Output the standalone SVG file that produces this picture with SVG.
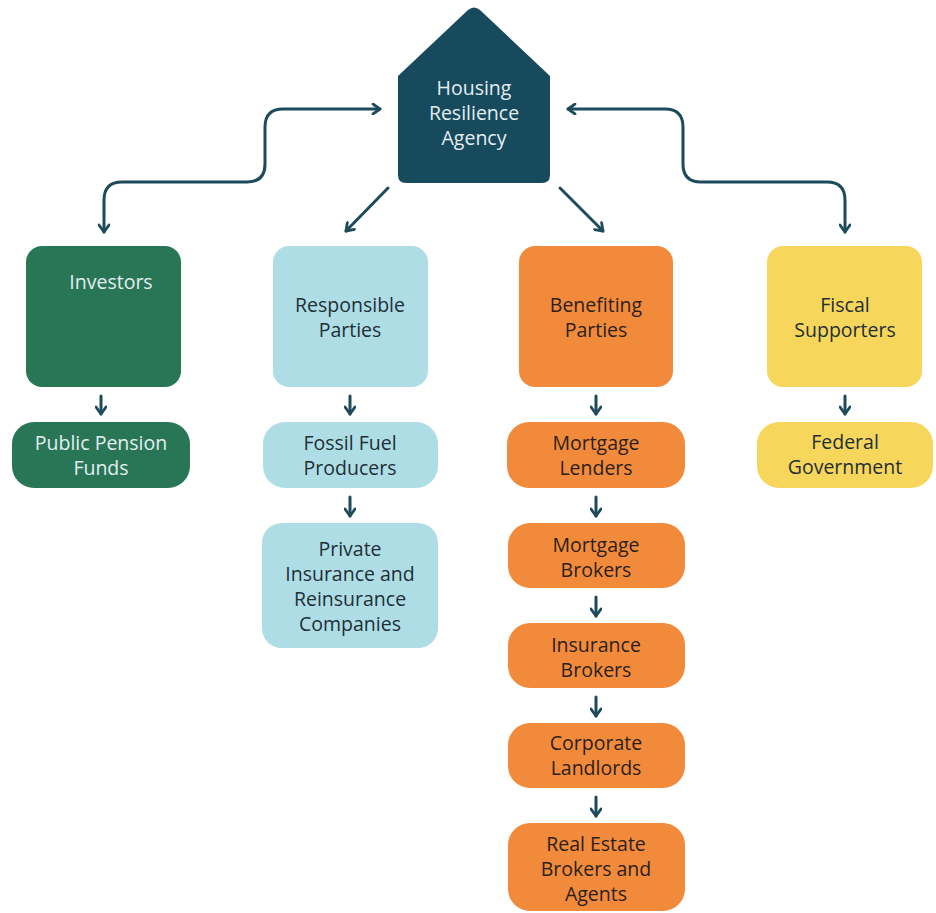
<svg xmlns="http://www.w3.org/2000/svg" width="936" height="913" viewBox="0 0 936 913">
<defs>
<marker id="ah" viewBox="0 0 12 12" refX="10" refY="6" markerWidth="12" markerHeight="12" markerUnits="userSpaceOnUse" orient="auto-start-reverse">
<path d="M3,1 L10,6 L3,11" fill="none" stroke="#1d4b5c" stroke-width="2.8" stroke-linecap="round" stroke-linejoin="round"/>
</marker>
</defs>
<style>
.t{font-family:"Open Sans","Noto Sans",sans-serif;font-size:19.5px;text-anchor:middle}
.lt{fill:#e4eef0}
.dk{fill:#1f2f36}
.ob{fill:#2a1f1a}
.c{fill:none;stroke:#1d4b5c;stroke-width:3;stroke-linecap:round;stroke-linejoin:round}
.g{fill:#287656}
.b{fill:#aedde6}
.o{fill:#f28a3c}
.y{fill:#f7d65c}
</style>
<rect width="936" height="913" fill="#ffffff"/>
<g id="connectors">
<path class="c" d="M380,109 H283 Q265,109 265,127 V164 Q265,182 247,182 H122 Q104,182 104,200 V232" marker-start="url(#ah)" marker-end="url(#ah)"/>
<path class="c" d="M568,109 H665 Q683,109 683,127 V164 Q683,182 701,182 H827 Q845,182 845,200 V232" marker-start="url(#ah)" marker-end="url(#ah)"/>
<path class="c" d="M388,188 L346,231" marker-end="url(#ah)"/>
<path class="c" d="M560,188 L603,231" marker-end="url(#ah)"/>
<path class="c" d="M101,396 V414" marker-end="url(#ah)"/>
<path class="c" d="M350,396 V414" marker-end="url(#ah)"/>
<path class="c" d="M350,497 V516" marker-end="url(#ah)"/>
<path class="c" d="M596,396 V414" marker-end="url(#ah)"/>
<path class="c" d="M596,497 V516" marker-end="url(#ah)"/>
<path class="c" d="M596,597 V616" marker-end="url(#ah)"/>
<path class="c" d="M596,697 V716" marker-end="url(#ah)"/>
<path class="c" d="M596,797 V816" marker-end="url(#ah)"/>
<path class="c" d="M845,396 V414" marker-end="url(#ah)"/>
</g>
<g id="agency">
<path d="M406,183 Q398,183 398,175 V76 L468,10 Q474,5 480,10 L550,76 V175 Q550,183 542,183 Z" fill="#174a5d"/>
<text class="t lt" x="474" y="95">Housing</text>
<text class="t lt" x="474" y="120">Resilience</text>
<text class="t lt" x="474" y="145">Agency</text>
</g>
<g id="investors">
<rect class="g" x="26" y="246" width="155" height="141" rx="16"/>
<text class="t lt" x="111" y="289">Investors</text>
</g>
<g id="pension">
<rect class="g" x="12" y="422" width="178" height="66" rx="22"/>
<text class="t lt" x="101" y="450">Public Pension</text>
<text class="t lt" x="101" y="475">Funds</text>
</g>
<g id="responsible">
<rect class="b" x="273" y="246" width="155" height="141" rx="16"/>
<text class="t dk" x="350" y="312">Responsible</text>
<text class="t dk" x="350" y="337">Parties</text>
</g>
<g id="fossil">
<rect class="b" x="263" y="422" width="175" height="66" rx="22"/>
<text class="t dk" x="350" y="450">Fossil Fuel</text>
<text class="t dk" x="350" y="475">Producers</text>
</g>
<g id="insurers">
<rect class="b" x="262" y="523" width="176" height="125" rx="20"/>
<text class="t dk" x="350" y="556">Private</text>
<text class="t dk" x="350" y="581">Insurance and</text>
<text class="t dk" x="350" y="606">Reinsurance</text>
<text class="t dk" x="350" y="631">Companies</text>
</g>
<g id="benefiting">
<rect class="o" x="519" y="246" width="154" height="141" rx="16"/>
<text class="t ob" x="596" y="312">Benefiting</text>
<text class="t ob" x="596" y="337">Parties</text>
</g>
<g id="lenders">
<rect class="o" x="507" y="422" width="178" height="66" rx="22"/>
<text class="t ob" x="596" y="450">Mortgage</text>
<text class="t ob" x="596" y="475">Lenders</text>
</g>
<g id="mbrokers">
<rect class="o" x="508" y="523" width="177" height="65" rx="22"/>
<text class="t ob" x="596" y="552">Mortgage</text>
<text class="t ob" x="596" y="577">Brokers</text>
</g>
<g id="ibrokers">
<rect class="o" x="508" y="623" width="177" height="65" rx="22"/>
<text class="t ob" x="596" y="652">Insurance</text>
<text class="t ob" x="596" y="677">Brokers</text>
</g>
<g id="landlords">
<rect class="o" x="508" y="723" width="177" height="65" rx="22"/>
<text class="t ob" x="596" y="750">Corporate</text>
<text class="t ob" x="596" y="775">Landlords</text>
</g>
<g id="realestate">
<rect class="o" x="508" y="823" width="177" height="88" rx="22"/>
<text class="t ob" x="596" y="851">Real Estate</text>
<text class="t ob" x="596" y="876">Brokers and</text>
<text class="t ob" x="596" y="901">Agents</text>
</g>
<g id="fiscal">
<rect class="y" x="767" y="246" width="155" height="141" rx="16"/>
<text class="t dk" x="845" y="312">Fiscal</text>
<text class="t dk" x="845" y="337">Supporters</text>
</g>
<g id="federal">
<rect class="y" x="757" y="422" width="176" height="66" rx="22"/>
<text class="t dk" x="845" y="449">Federal</text>
<text class="t dk" x="845" y="474">Government</text>
</g>
</svg>
